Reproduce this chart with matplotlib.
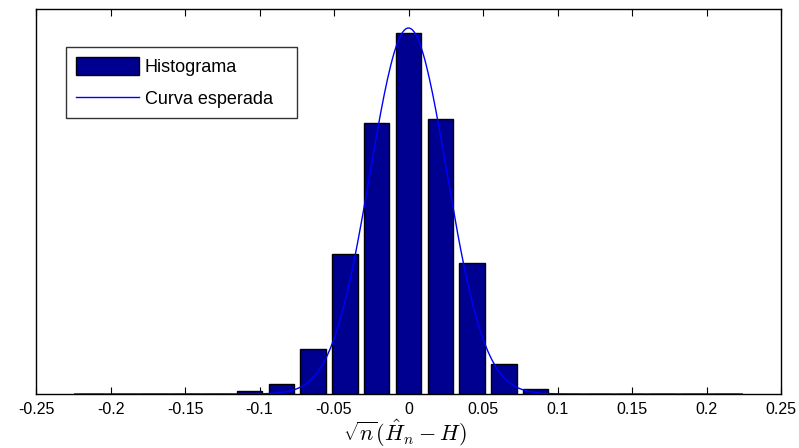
import numpy as np
import matplotlib
matplotlib.use("Agg")
import matplotlib.pyplot as plt

plt.rcParams['font.family'] = ['Liberation Sans', 'DejaVu Sans']
plt.rcParams['mathtext.fontset'] = 'cm'

# Histogram: 21 bins between the data min and max
data_min, data_max = -0.224, 0.224
n_bins = 21
counts = [0, 0, 0, 0, 0, 3, 10, 45, 140, 272, 362, 276, 131, 30, 5, 0, 0, 0, 0, 0, 0]

# Expected (normal) curve parameters
curve_peak = 367
curve_sigma = 0.0257

xticks = [-0.25, -0.2, -0.15, -0.1, -0.05, 0, 0.05, 0.1, 0.15, 0.2, 0.25]
xticklabels = ['-0.25', '-0.2', '-0.15', '-0.1', '-0.05', '0', '0.05', '0.1', '0.15', '0.2', '0.25']
legend_labels = ['Histograma', 'Curva esperada']

bw = (data_max - data_min) / n_bins
centers = data_min + bw / 2 + bw * np.arange(n_bins)

fig = plt.figure(figsize=(7.99, 4.48), dpi=100)
ax = fig.add_axes([36/799, 1 - 394/448, (781-36)/799, (394-9)/448])

bars = ax.bar(centers, counts, width=0.8*bw, color='#000090', edgecolor='black',
              linewidth=1.0, zorder=2)
xc = np.linspace(data_min, data_max, 400)
line, = ax.plot(xc, curve_peak*np.exp(-xc**2/(2*curve_sigma**2)), color='#0000ff',
                linewidth=1.0, zorder=3)

ax.set_xlim(-0.25, 0.25)
ax.set_ylim(0, 386)
ax.set_xticks(xticks)
ax.set_xticklabels(xticklabels, fontsize=11.5)
ax.set_yticks([])
ax.tick_params(axis='x', direction='in', length=5, top=True, width=0.8, pad=6)
for s in ax.spines.values():
    s.set_linewidth(1.0)

ax.set_xlabel(r'$\sqrt{n}(\hat{H}_n - H)$', fontsize=16, labelpad=0.5)
ax.xaxis.label.set_x(0.495)

leg = ax.legend([bars, line], [legend_labels[0], legend_labels[1] + '   '],
                loc='upper left', bbox_to_anchor=((66-36)/745, 1 - (47-9)/385),
                bbox_transform=ax.transAxes, fontsize=13, frameon=True, fancybox=False,
                edgecolor='black', handlelength=3.5, handleheight=1.2, borderaxespad=0,
                borderpad=0.55, labelspacing=0.7, handletextpad=0.3)
leg.get_frame().set_linewidth(1.0)

fig.savefig('out.png', dpi=100)
